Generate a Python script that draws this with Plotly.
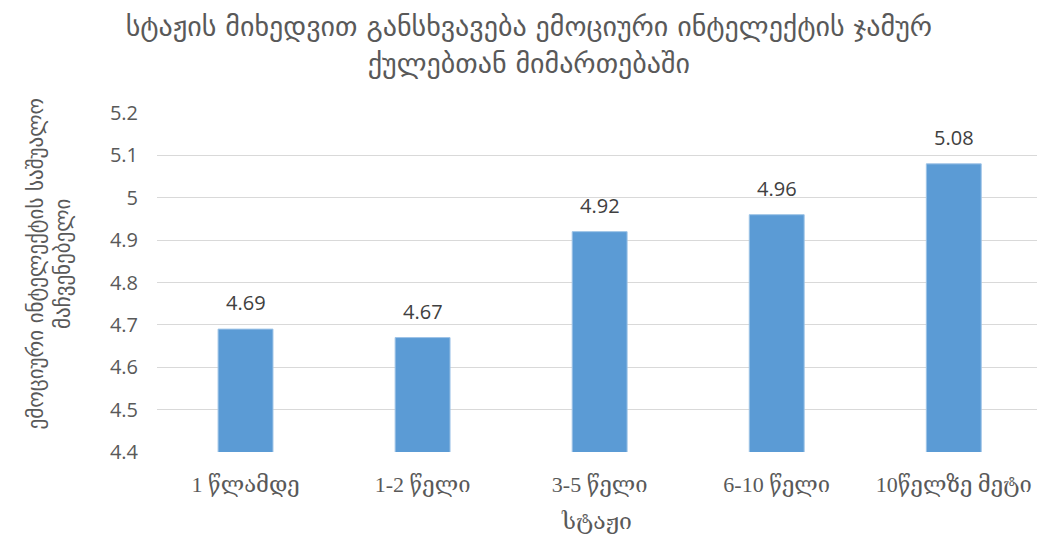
import plotly.graph_objects as go

categories = ["1 წლამდე", "1-2 წელი", "3-5 წელი", "6-10 წელი", "10წელზე მეტი"]
values = [4.69, 4.67, 4.92, 4.96, 5.08]
y_ticks = [4.4, 4.5, 4.6, 4.7, 4.8, 4.9, 5.0, 5.1, 5.2]
y_tick_labels = ["4.4", "4.5", "4.6", "4.7", "4.8", "4.9", "5", "5.1", "5.2"]

title_text = "სტაჟის მიხედვით განსხვავება ემოციური ინტელექტის ჯამურ<br>ქულებთან მიმართებაში"
x_title = "სტაჟი"
y_title = "ემოციური ინტელექტის საშუალო<br>მაჩვენებელი"

geo_font = "Liberation Serif, DejaVu Serif, DejaVu Sans"
num_font = "Open Sans, DejaVu Sans"

fig = go.Figure(go.Bar(
    x=categories, y=values,
    marker=dict(color="#5B9BD5", line=dict(color="#9DC3E6", width=1)),
    width=0.31,
))

label_annotations = [dict(
    x=c, y=v, xref="x", yref="y", text=f"{v:.2f}", showarrow=False,
    xanchor="center", yanchor="bottom", yshift=11,
    font=dict(family=num_font, size=20, color="#404040"),
) for c, v in zip(categories, values)]

fig.update_layout(
    width=1037, height=541,
    margin=dict(l=157, r=0, t=113, b=89),
    paper_bgcolor="white", plot_bgcolor="white",
    showlegend=False,
    title=dict(text=title_text, x=0.51, xanchor="center", y=0.933, yanchor="middle",
               font=dict(family="DejaVu Sans", size=28, color="#595959")),
    xaxis=dict(
        range=[-0.5, 4.47],
        showgrid=False, showline=False, zeroline=False,
        tickfont=dict(family=geo_font, size=22, color="#595959"),
        ticklabelstandoff=17,
        title=dict(text=x_title, font=dict(family=geo_font, size=23, color="#595959"), standoff=16),
    ),
    yaxis=dict(
        range=[4.4, 5.2],
        tickvals=y_ticks, ticktext=y_tick_labels,
        showgrid=True, gridcolor="#D9D9D9", gridwidth=1,
        showline=False, zeroline=False,
        tickfont=dict(family=num_font, size=20, color="#595959"),
        ticklabelstandoff=18,
    ),
    annotations=label_annotations + [dict(
        text=y_title, xref="paper", yref="paper", x=-0.122, y=0.555,
        xanchor="center", yanchor="middle", textangle=-90, showarrow=False,
        font=dict(family="DejaVu Sans", size=21, color="#595959"),
    )],
)

fig.write_html("out.html")
